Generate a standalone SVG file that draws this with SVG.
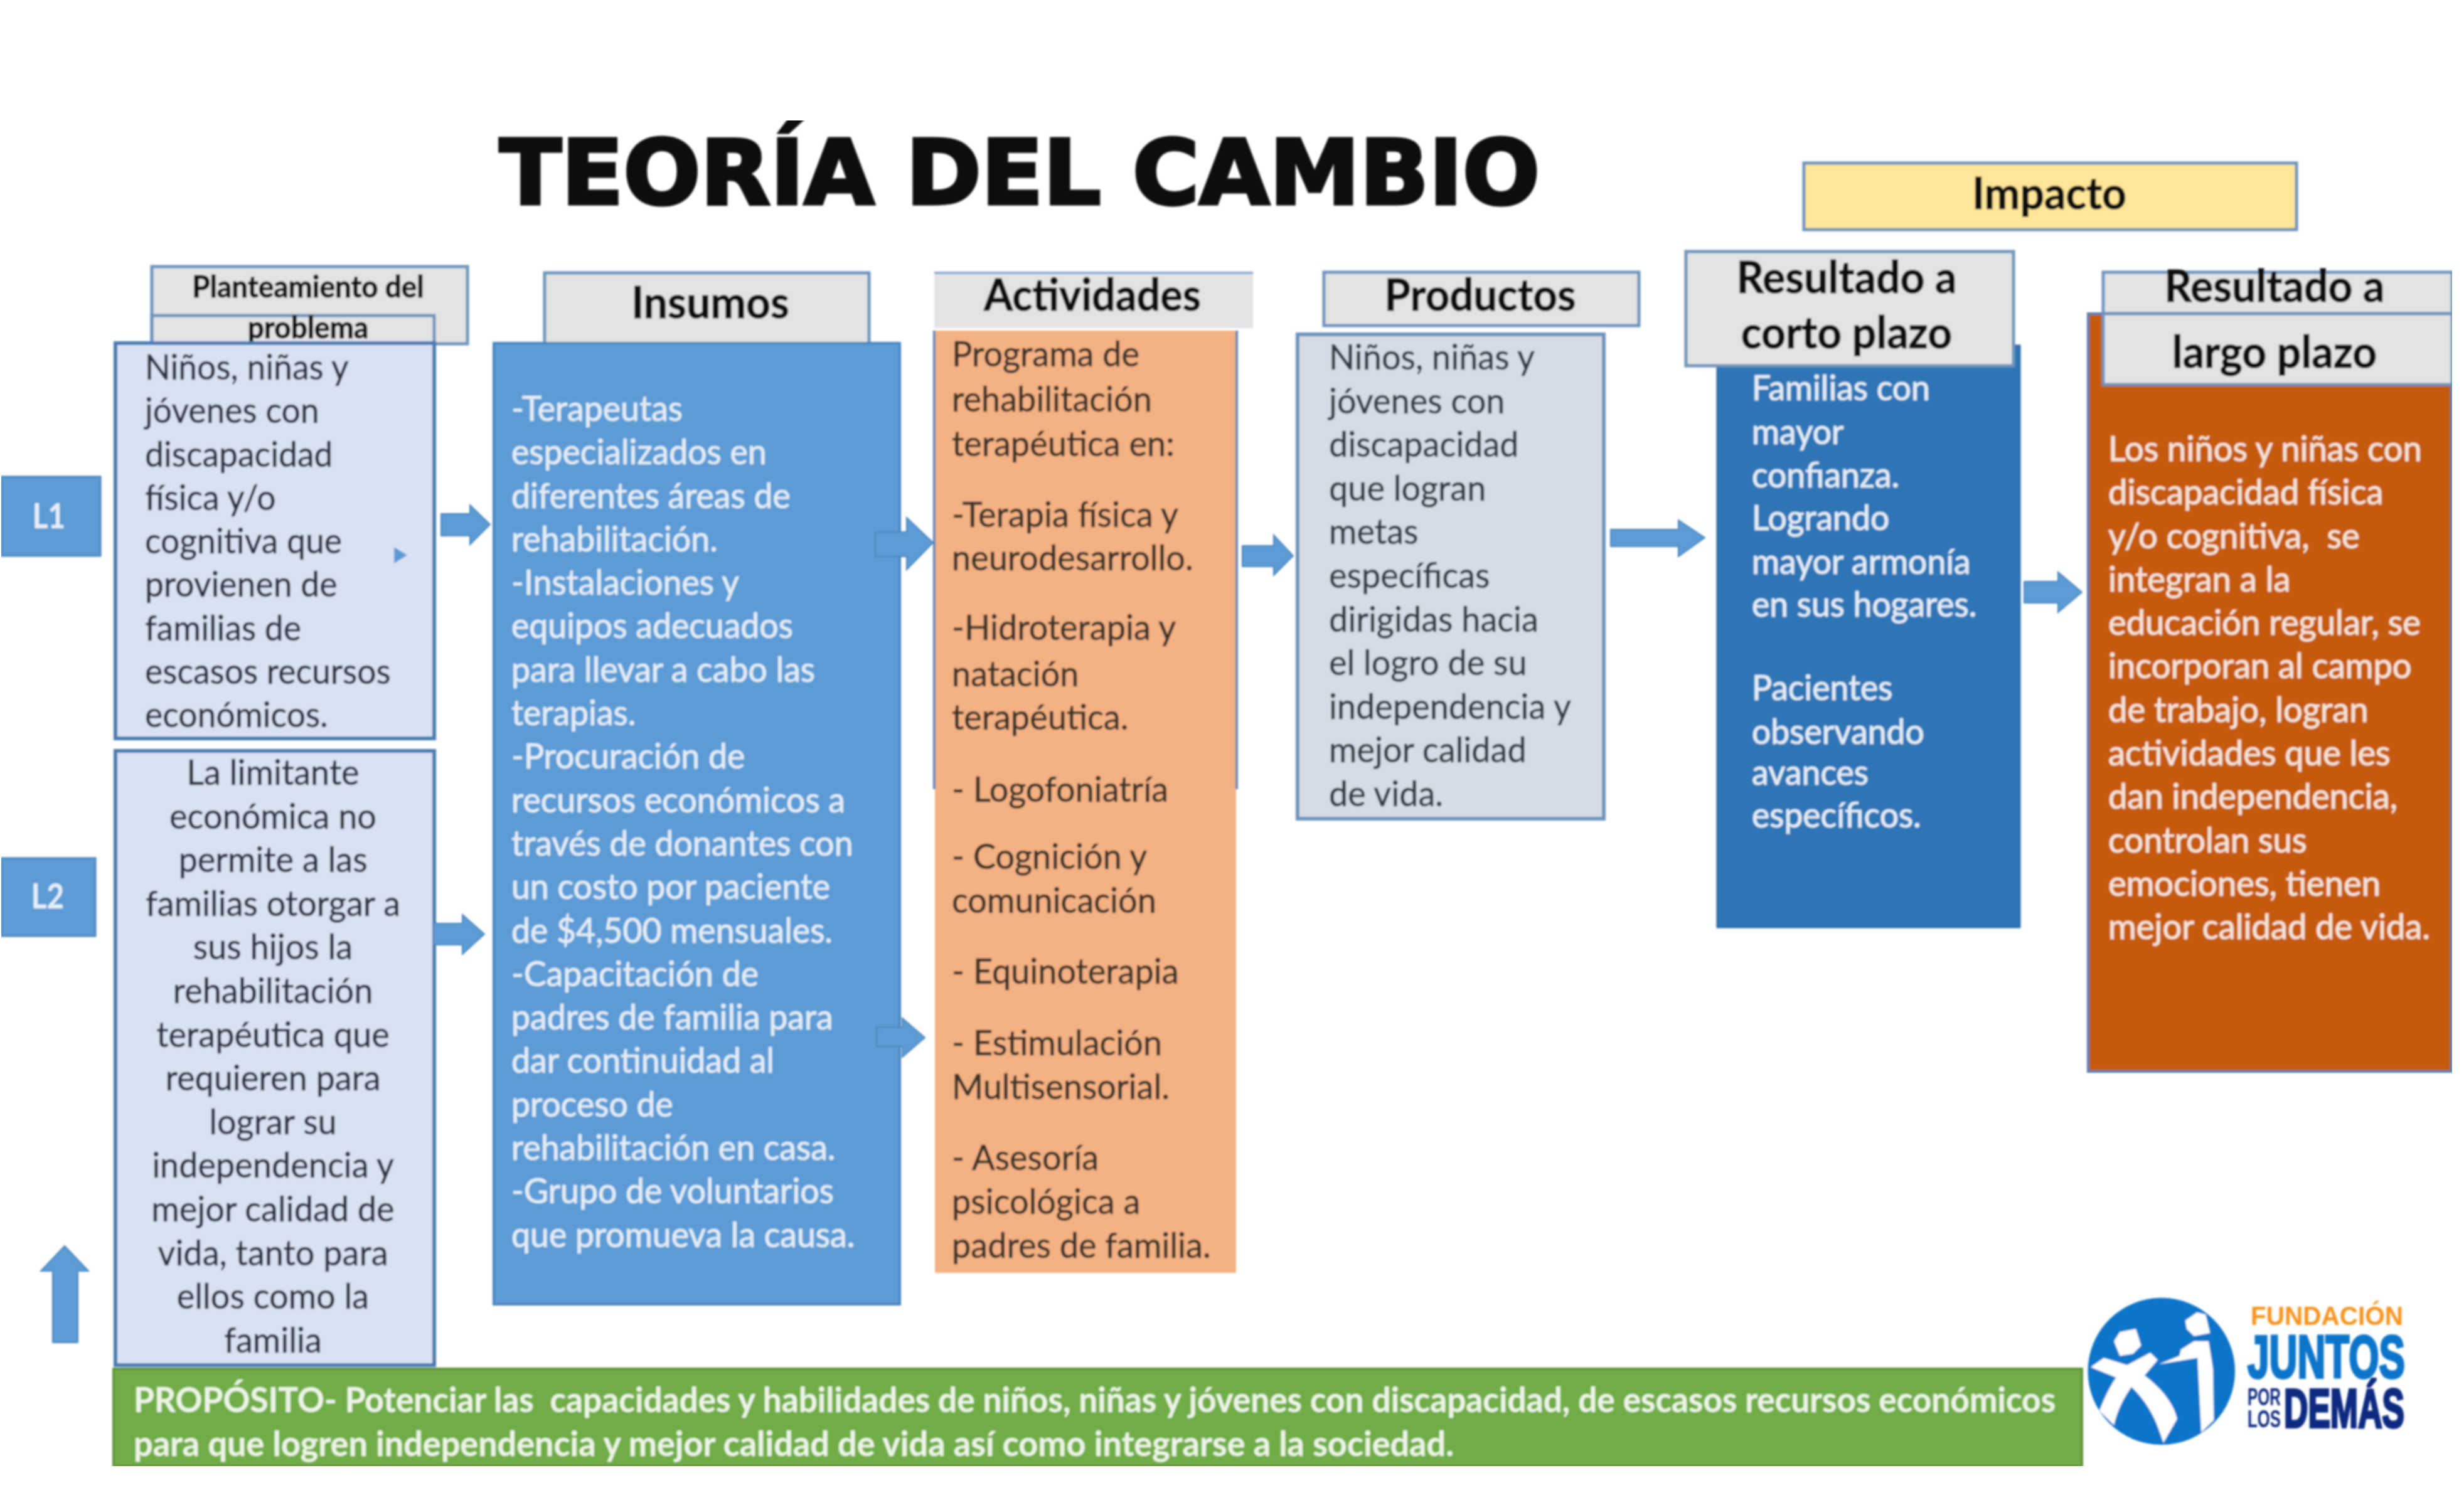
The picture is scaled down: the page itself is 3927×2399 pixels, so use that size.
<svg xmlns="http://www.w3.org/2000/svg" width="3927" height="2399" viewBox="0 0 3927 2399">
<style>
text{font-family:"Lato","Carlito","Liberation Sans",sans-serif}
.b{font-size:56px;stroke-width:.7px}
.d{fill:#2b3340;stroke:#2b3340}
.w{fill:#e4edf6;stroke:#e4edf6}
.h{font-weight:700;fill:#111;stroke:#111;stroke-width:1px;text-anchor:middle}
.hb{fill:#e3e3e3;stroke:#6d93bd;stroke-width:5}
.pale{fill:#d9e2f3;stroke:#4a7ab0;stroke-width:6}
.ar{fill:#5b9bd5;stroke:#4a86bd;stroke-width:2}
</style>
<defs><filter id="soft" x="0" y="0" width="1" height="1"><feGaussianBlur stdDeviation="1.4"/></filter></defs>
<rect width="3927" height="2399" fill="#fff"/>
<g filter="url(#soft)">
<g id="title"><text x="796" y="325" font-size="143" font-weight="700" style="font-family:'DejaVu Sans',sans-serif" fill="#0a0a0a" stroke="#0a0a0a" stroke-width="5" textLength="1658" lengthAdjust="spacingAndGlyphs">TEORÍA DEL CAMBIO</text></g>

<g id="impacto"><rect class="hb" x="2875" y="260" width="785" height="106" style="fill:#ffe699"/><text class="h" font-size="70" transform="translate(3266 333) scale(.97 1)">Impacto</text></g>

<g id="l1"><rect x="2" y="760" width="158" height="126" fill="#5b9bd5" stroke="#4a86bd" stroke-width="3"/><text transform="translate(78 842) scale(.85 1)" text-anchor="middle" font-size="56" font-weight="700" fill="#e6eff8">L1</text></g>
<g id="l2"><rect x="2" y="1368" width="150" height="124" fill="#5b9bd5" stroke="#4a86bd" stroke-width="3"/><text transform="translate(76 1448) scale(.85 1)" text-anchor="middle" font-size="56" font-weight="700" fill="#e6eff8">L2</text></g>

<g id="planteamiento">
<rect class="hb" x="242" y="425" width="503" height="123"/>
<rect class="hb" style="fill:none" x="242" y="503" width="450" height="45"/>
<text class="h" font-size="47" transform="translate(491 474) scale(.976 1)">Planteamiento del</text>
<text class="h" font-size="47" transform="translate(491 539) scale(.976 1)">problema</text>
<rect class="pale" x="184" y="547" width="508" height="630"/>
<text class="b d" transform="translate(231 605) scale(.955 1)"><tspan x="0" y="0">Niños, niñas y</tspan><tspan x="0" dy="69.3">jóvenes con</tspan><tspan x="0" dy="69.3">discapacidad</tspan><tspan x="0" dy="69.3">física y/o</tspan><tspan x="0" dy="69.3">cognitiva que</tspan><tspan x="0" dy="69.3">provienen de</tspan><tspan x="0" dy="69.3">familias de</tspan><tspan x="0" dy="69.3">escasos recursos</tspan><tspan x="0" dy="69.3">económicos.</tspan></text>
<polygon points="628,872 649,885 628,898" fill="#5b9bd5"/>
</g>
<g id="limitante">
<rect class="pale" x="184" y="1197" width="508" height="979"/>
<text class="b d" text-anchor="middle" transform="translate(435 1251) scale(.965 1)"><tspan x="0" y="0">La limitante</tspan><tspan x="0" dy="69.6">económica no</tspan><tspan x="0" dy="69.6">permite a las</tspan><tspan x="0" dy="69.6">familias otorgar a</tspan><tspan x="0" dy="69.6">sus hijos la</tspan><tspan x="0" dy="69.6">rehabilitación</tspan><tspan x="0" dy="69.6">terapéutica que</tspan><tspan x="0" dy="69.6">requieren para</tspan><tspan x="0" dy="69.6">lograr su</tspan><tspan x="0" dy="69.6">independencia y</tspan><tspan x="0" dy="69.6">mejor calidad de</tspan><tspan x="0" dy="69.6">vida, tanto para</tspan><tspan x="0" dy="69.6">ellos como la</tspan><tspan x="0" dy="69.6">familia</tspan></text>
</g>

<g id="insumos">
<rect class="hb" x="868" y="435" width="517" height="115"/>
<text class="h" font-size="70" transform="translate(1132 507) scale(.97 1)">Insumos</text>
<rect x="787" y="547" width="647" height="1532" fill="#5b9bd5" stroke="#4a86bd" stroke-width="4"/>
<text class="b w" transform="translate(815 671) scale(.957 1)"><tspan x="0" y="0">-Terapeutas</tspan><tspan x="0" dy="69.3">especializados en</tspan><tspan x="0" dy="69.3">diferentes áreas de</tspan><tspan x="0" dy="69.3">rehabilitación.</tspan><tspan x="0" dy="69.3">-Instalaciones y</tspan><tspan x="0" dy="69.3">equipos adecuados</tspan><tspan x="0" dy="69.3">para llevar a cabo las</tspan><tspan x="0" dy="69.3">terapias.</tspan><tspan x="0" dy="69.3">-Procuración de</tspan><tspan x="0" dy="69.3">recursos económicos a</tspan><tspan x="0" dy="69.3">través de donantes con</tspan><tspan x="0" dy="69.3">un costo por paciente</tspan><tspan x="0" dy="69.3">de $4,500 mensuales.</tspan><tspan x="0" dy="69.3">-Capacitación de</tspan><tspan x="0" dy="69.3">padres de familia para</tspan><tspan x="0" dy="69.3">dar continuidad al</tspan><tspan x="0" dy="69.3">proceso de</tspan><tspan x="0" dy="69.3">rehabilitación en casa.</tspan><tspan x="0" dy="69.3">-Grupo de voluntarios</tspan><tspan x="0" dy="69.3">que promueva la causa.</tspan></text>
</g>

<g id="actividades">
<rect x="1489" y="434" width="508" height="89" fill="#e3e3e3"/>
<line x1="1489" y1="435" x2="1997" y2="435" stroke="#8fadd0" stroke-width="4"/>
<text class="h" font-size="70" transform="translate(1741 495) scale(.95 1)">Actividades</text>
<rect x="1490" y="527" width="480" height="1502" fill="#f4b183"/>
<path d="M1489 527V1258M1971 527V1258" stroke="#5b86b5" stroke-width="4" fill="none"/>
<text class="b" fill="#3a3028" stroke="#3a3028" transform="translate(1517 584) scale(.965 1)"><tspan x="0" y="0">Programa de</tspan><tspan x="0" y="72">rehabilitación</tspan><tspan x="0" y="143">terapéutica en:</tspan><tspan x="0" y="256">-Terapia física y</tspan><tspan x="0" y="325">neurodesarrollo.</tspan><tspan x="0" y="436">-Hidroterapia y</tspan><tspan x="0" y="510">natación</tspan><tspan x="0" y="579">terapéutica.</tspan><tspan x="0" y="694">- Logofoniatría</tspan><tspan x="0" y="801">- Cognición y</tspan><tspan x="0" y="871">comunicación</tspan><tspan x="0" y="984">- Equinoterapia</tspan><tspan x="0" y="1098">- Estimulación</tspan><tspan x="0" y="1168">Multisensorial.</tspan><tspan x="0" y="1281">- Asesoría</tspan><tspan x="0" y="1351">psicológica a</tspan><tspan x="0" y="1421">padres de familia.</tspan></text>
</g>

<g id="productos">
<rect class="hb" x="2110" y="434" width="502" height="85"/>
<text class="h" font-size="70" transform="translate(2359 495) scale(.96 1)">Productos</text>
<rect x="2068" y="533" width="488" height="772" fill="#d6dce5" stroke="#6d93bd" stroke-width="6"/>
<text class="b" fill="#333a44" stroke="#333a44" transform="translate(2118 589) scale(.965 1)"><tspan x="0" y="0">Niños, niñas y</tspan><tspan x="0" dy="69.6">jóvenes con</tspan><tspan x="0" dy="69.6">discapacidad</tspan><tspan x="0" dy="69.6">que logran</tspan><tspan x="0" dy="69.6">metas</tspan><tspan x="0" dy="69.6">específicas</tspan><tspan x="0" dy="69.6">dirigidas hacia</tspan><tspan x="0" dy="69.6">el logro de su</tspan><tspan x="0" dy="69.6">independencia y</tspan><tspan x="0" dy="69.6">mejor calidad</tspan><tspan x="0" dy="69.6">de vida.</tspan></text>
</g>

<g id="corto">
<rect x="2737" y="551" width="482" height="927" fill="#2e75b6" stroke="#2a6aa6" stroke-width="3"/>
<rect class="hb" x="2687" y="401" width="522" height="182"/>
<text class="h" font-size="70" transform="translate(2943 467) scale(.97 1)">Resultado a</text>
<text class="h" font-size="70" transform="translate(2943 555) scale(.97 1)">corto plazo</text>
<text class="b w" transform="translate(2792 638) scale(.955 1)"><tspan x="0" y="0">Familias con</tspan><tspan x="0" y="70">mayor</tspan><tspan x="0" y="139">confianza.</tspan><tspan x="0" y="207">Logrando</tspan><tspan x="0" y="277">mayor armonía</tspan><tspan x="0" y="345">en sus hogares.</tspan><tspan x="0" y="478">Pacientes</tspan><tspan x="0" y="548">observando</tspan><tspan x="0" y="613">avances</tspan><tspan x="0" y="681">específicos.</tspan></text>
</g>

<g id="largo">
<rect x="3328" y="500" width="579" height="1208" fill="#c55a11" stroke="#4f7fae" stroke-width="4"/>
<rect class="hb" x="3352" y="434" width="556" height="66"/>
<rect class="hb" x="3352" y="500" width="556" height="113"/>
<text class="h" font-size="70" transform="translate(3625 481) scale(.97 1)">Resultado a</text>
<text class="h" font-size="70" transform="translate(3625 586) scale(.97 1)">largo plazo</text>
<text class="b" fill="#f6e3d6" stroke="#f6e3d6" transform="translate(3360 735) scale(.97 1)"><tspan x="0" y="0">Los niños y niñas con</tspan><tspan x="0" dy="69.3">discapacidad física</tspan><tspan x="0" dy="69.3" xml:space="preserve">y/o cognitiva,  se</tspan><tspan x="0" dy="69.3">integran a la</tspan><tspan x="0" dy="69.3">educación regular, se</tspan><tspan x="0" dy="69.3">incorporan al campo</tspan><tspan x="0" dy="69.3">de trabajo, logran</tspan><tspan x="0" dy="69.3">actividades que les</tspan><tspan x="0" dy="69.3">dan independencia,</tspan><tspan x="0" dy="69.3">controlan sus</tspan><tspan x="0" dy="69.3">emociones, tienen</tspan><tspan x="0" dy="69.3">mejor calidad de vida.</tspan></text>
</g>

<g id="connectors">
<polygon class="ar" points="703,819 749,819 749,805 781,836 749,868 749,854 703,854"/>
<polygon class="ar" points="691,1472 737,1472 737,1458 772,1489 737,1521 737,1506 691,1506"/>
<polygon class="ar" points="1395,848 1445,848 1445,825 1487,865 1445,908 1445,887 1395,887"/>
<polygon class="ar" points="1397,1637 1438,1637 1438,1623 1474,1654 1438,1685 1438,1668 1397,1668"/>
<polygon class="ar" points="1980,870 2030,870 2030,853 2061,886 2030,917 2030,903 1980,903"/>
<polygon class="ar" points="2567,844 2675,844 2675,829 2717,857 2675,887 2675,871 2567,871"/>
<polygon class="ar" points="3226,927 3280,927 3280,912 3318,944 3280,976 3280,961 3226,961"/>
<polygon class="ar" points="84,2140 84,2026 65,2026 103,1986 141,2026 124,2026 124,2140"/>
</g>

<g id="proposito">
<rect x="181" y="2182" width="3137" height="155" fill="#70ad47" stroke="#5e9339" stroke-width="4"/>
<text x="213" y="2251" font-size="55" font-weight="700" fill="#edf5e6" textLength="3063" lengthAdjust="spacingAndGlyphs" xml:space="preserve">PROPÓSITO- Potenciar las  capacidades y habilidades de niños, niñas y jóvenes con discapacidad, de escasos recursos económicos</text>
<text x="213" y="2321" font-size="55" font-weight="700" fill="#edf5e6" textLength="2104" lengthAdjust="spacingAndGlyphs">para que logren independencia y mejor calidad de vida así como integrarse a la sociedad.</text>
</g>

<g id="logo">
<g transform="translate(3200 1950) scale(.4636 .33)" fill="#fff">
<ellipse cx="528" cy="715" rx="253" ry="355" fill="#0b75c9"/>
<path d="M365 570L385 525L440 510L458 590L430 630L385 640Z"/>
<path d="M610 470L650 430L680 440L695 530L640 545L615 510Z"/>
<path d="M285 695L330 650L410 685L490 625L515 660L470 735C530 800 570 870 582 945L535 1060L520 1000C500 920 470 850 425 790C395 850 375 910 365 975L315 905C330 850 350 790 372 745Z"/>
<path d="M595 610L640 570L690 570L705 700L708 950L665 1010L652 650L520 680L590 640Z"/>
</g>
<text x="3587" y="2112" font-size="42" font-weight="700" fill="#f7931e" textLength="243" lengthAdjust="spacingAndGlyphs" style="font-family:'Liberation Sans',sans-serif">FUNDACIÓN</text>
<text x="3582" y="2196" font-size="96" font-weight="700" fill="#0b75c9" stroke="#0b75c9" stroke-width="4" textLength="251" lengthAdjust="spacingAndGlyphs" style="font-family:'Liberation Sans',sans-serif">JUNTOS</text>
<text x="3582" y="2240" font-size="38" font-weight="700" fill="#0b2a80" textLength="53" lengthAdjust="spacingAndGlyphs" style="font-family:'Liberation Sans',sans-serif">POR</text>
<text x="3582" y="2275" font-size="38" font-weight="700" fill="#0b2a80" textLength="53" lengthAdjust="spacingAndGlyphs" style="font-family:'Liberation Sans',sans-serif">LOS</text>
<text x="3640" y="2275" font-size="88" font-weight="700" fill="#0b2a80" stroke="#0b2a80" stroke-width="4" textLength="192" lengthAdjust="spacingAndGlyphs" style="font-family:'Liberation Sans',sans-serif">DEMÁS</text>
</g>
</g>
</svg>
